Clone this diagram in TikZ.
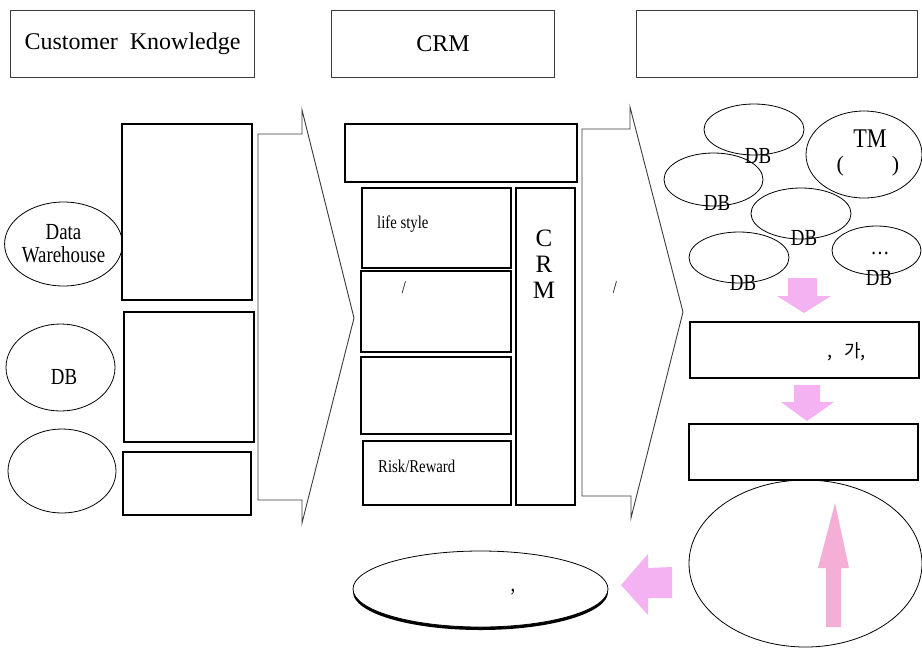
\documentclass[tikz,border=0pt]{standalone}
\usepackage{fontspec}
\setmainfont{Liberation Serif}
\newfontfamily\cond[FakeStretch=0.82]{Liberation Serif}
\newfontfamily\krfont{Noto Sans CJK KR}
\usetikzlibrary{shapes.geometric}
\definecolor{pinkA}{RGB}{245,178,243}
\definecolor{pinkB}{RGB}{245,174,214}
\definecolor{edgegray}{RGB}{60,60,60}
\tikzset{
  hdr/.style={draw=edgegray, line width=1.1pt, anchor=north west, inner sep=0pt, font=\fontsize{24}{26}\selectfont},
  blk/.style={draw=black, line width=1.8pt, anchor=north west, inner sep=0pt},
  ell/.style={ellipse, draw=black, line width=0.8pt, inner sep=0pt},
  txt/.style={inner sep=0pt, font=\cond\fontsize{23}{25}\selectfont},
  small/.style={inner sep=0pt, font=\cond\fontsize{18}{20}\selectfont},
  chevron/.style={draw=edgegray, line width=0.9pt},
  pinkarrow/.style={fill=pinkA, draw=none},
}
\begin{document}
\begin{tikzpicture}[x=1pt,y=-1pt]
\useasboundingbox (0,0) rectangle (922,657);
\fill[white] (0,0) rectangle (922,657);

% header boxes
\node[hdr, minimum width=244, minimum height=67] (h1) at (10,10) {\raisebox{-2pt}{Customer\ \ Knowledge}};
\node[hdr, minimum width=223, minimum height=67] (h2) at (331,10) {\raisebox{-2pt}{CRM}};
\node[hdr, minimum width=281, minimum height=67] (h3) at (636,10) {};

% left column
\node[ell, minimum width=109, minimum height=84, align=center, font=\cond\fontsize{23}{23}\selectfont] (edw) at (63.5,244) {Data\\Warehouse};
\node[ell, minimum width=109, minimum height=87] (edb) at (60.5,367.5) {};
\node[txt] (edbt) at (64,377) {DB};
\node[ell, minimum width=108, minimum height=84] (eth) at (62,471) {};
\node[blk, minimum width=130, minimum height=176] (ra) at (121,123) {};
\node[blk, minimum width=130, minimum height=130] (rb) at (123,311) {};
\node[blk, minimum width=128, minimum height=63] (rc) at (122,451) {};

% chevron arrow 1
\draw[chevron] (258,134) -- (302,134) -- (302,110) -- (354,318) -- (302,523) -- (302,500) -- (258,500) -- cycle;

% middle column
\node[blk, minimum width=232, minimum height=58] (mt) at (344,123) {};
\node[blk, minimum width=149, minimum height=80] (mls) at (361,187) {};
\node[small, anchor=west] (mlst) at (377,224) {life\ style};
\node[blk, minimum width=150, minimum height=81] (m2) at (360,270) {};
\node[small] (m2t) at (404,288) {/};
\node[blk, minimum width=150, minimum height=77] (m3) at (360,356) {};
\node[blk, minimum width=148, minimum height=64] (mrr) at (362,440) {};
\node[small, anchor=west] (mrrt) at (378,466) {Risk/Reward};
\node[blk, minimum width=59, minimum height=317] (mcrm) at (515,187) {};
\node[inner sep=0pt, align=center, font=\fontsize{25}{26}\selectfont] (mcrmt) at (544,264) {C\\R\\M};

% chevron arrow 2
\draw[chevron] (582,129) -- (630,129) -- (630,107) -- (683,312) -- (631,518) -- (631,496) -- (582,496) -- cycle;
\node[small] (a2t) at (615,288) {/};

% right column ellipses
\node[ell, minimum width=100, minimum height=51] (e1) at (754,129.5) {};
\node[txt] (e1t) at (758,156) {DB};
\node[ell, minimum width=116, minimum height=87] (e2) at (864,154.5) {};
\node[inner sep=0pt, font=\cond\fontsize{27}{29}\selectfont] (e2t) at (870,139) {TM};
\node[inner sep=0pt, font=\fontsize{22}{24}\selectfont] (e2p) at (868,166) {(\hspace{48pt})};
\node[ell, minimum width=99, minimum height=53] (e3) at (713.5,179.5) {};
\node[txt] (e3t) at (717,203) {DB};
\node[ell, minimum width=100, minimum height=51] (e4) at (801,213.5) {};
\node[txt] (e4t) at (804,238) {DB};
\node[ell, minimum width=100, minimum height=51] (e5) at (739,257.5) {};
\node[txt] (e5t) at (743,283) {DB};
\node[ell, minimum width=89, minimum height=49] (e6) at (876.5,250.5) {};
\node[txt] (e6d) at (880,253) {…};
\node[txt] (e6t) at (879,278) {DB};

% pink arrow down 1
\fill[pinkarrow] (788,278) -- (817,278) -- (817,296) -- (831,296) -- (804,313) -- (777,296) -- (788,296) -- cycle;

\node[blk, minimum width=229, minimum height=56] (r1) at (689,321) {};
\node[inner sep=0pt, anchor=west, font=\krfont\fontsize{18}{20}\selectfont] (r1t) at (827,352) {,\hspace{12pt}가,};

% pink arrow down 2
\fill[pinkarrow] (794,385) -- (820,385) -- (820,402) -- (834,402) -- (807,421) -- (781,402) -- (794,402) -- cycle;

\node[blk, minimum width=229, minimum height=56] (r2) at (688,423) {};

% big ellipse with up arrow
\node[ell, minimum width=233, minimum height=167] (eb) at (805.5,563.5) {};
\fill[pinkB] (826,627) -- (826,568) -- (818,568) -- (835,503) -- (849,568) -- (841,568) -- (841,627) -- cycle;

% left pink arrow
\fill[pinkarrow] (672,567) -- (672,598) -- (648,598) -- (648,615) -- (621,585) -- (648,554) -- (648,568) -- cycle;

% bottom disc ellipse
\fill[black] (480.5,592) ellipse [x radius=127.5, y radius=38];
\node[ell, fill=white, minimum width=255, minimum height=76] (ebot) at (480.5,589) {};
\node[txt] (ebott) at (513,592) {,};
\end{tikzpicture}
\end{document}
